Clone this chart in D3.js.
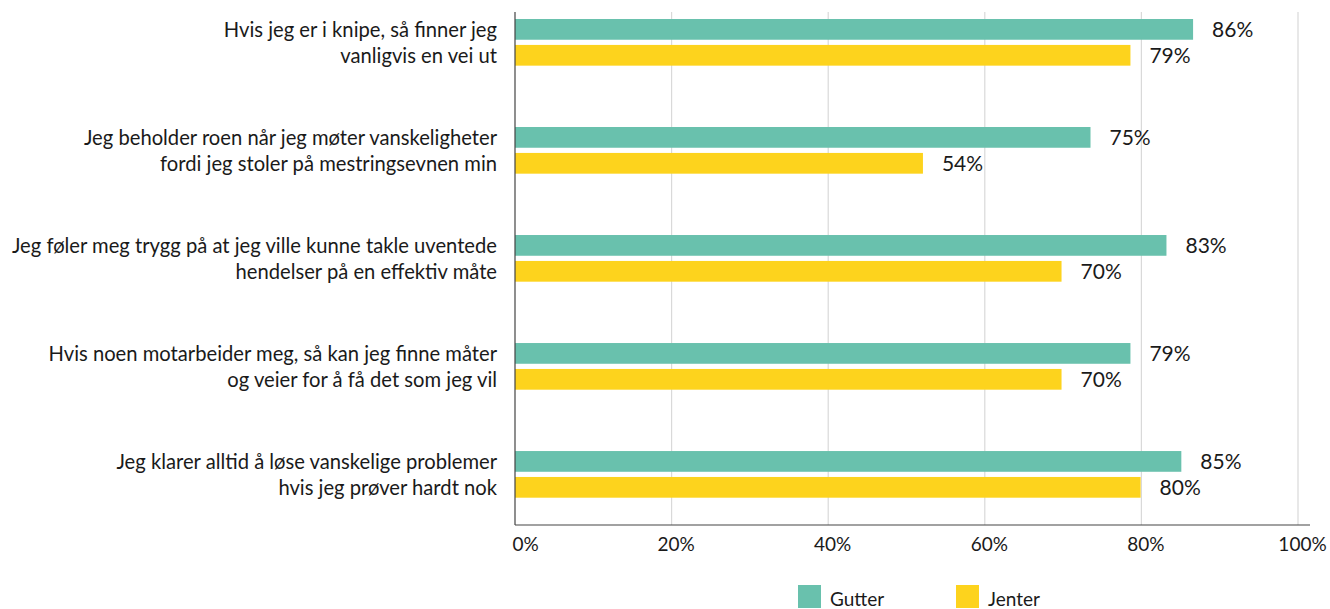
<!DOCTYPE html>
<html>
<head>
<meta charset="utf-8">
<script src="https://cdn.jsdelivr.net/npm/d3@7"></script>
<style>
  html, body { margin: 0; padding: 0; background: #fff; }
  svg { display: block; }
  text { font-family: Lato, "Open Sans", sans-serif; fill: #1a1a1a; }
</style>
</head>
<body>
<svg id="chart" width="1330" height="609"></svg>
<script>
// ---- data ----
const categories = [
  ["Hvis jeg er i knipe, så finner jeg", "vanligvis en vei ut"],
  ["Jeg beholder roen når jeg møter vanskeligheter", "fordi jeg stoler på mestringsevnen min"],
  ["Jeg føler meg trygg på at jeg ville kunne takle uventede", "hendelser på en effektiv måte"],
  ["Hvis noen motarbeider meg, så kan jeg finne måter", "og veier for å få det som jeg vil"],
  ["Jeg klarer alltid å løse vanskelige problemer", "hvis jeg prøver hardt nok"]
];
const seriesNames = ["Gutter", "Jenter"];
const gutterValues = [86.6, 73.5, 83.2, 78.6, 85.1];
const jenterValues = [78.6, 52.1, 69.8, 69.8, 79.9];
const gutterLabels = ["86%", "75%", "83%", "79%", "85%"];
const jenterLabels = ["79%", "54%", "70%", "70%", "80%"];
const xTicks = [0, 20, 40, 60, 80, 100];
const colors = ["#69C1AD", "#FDD31D"];

// ---- layout ----
const svg = d3.select("#chart");
const plotLeft = 515, plotRight = 1298, plotTop = 12, axisY = 525;

const x = d3.scaleLinear().domain([0, 100]).range([plotLeft, plotRight]);
const keys = categories.map((c, i) => i);
const y0 = d3.scaleBand().domain(keys).range([19, 497.7]).paddingInner(0.568).paddingOuter(0);
const y1 = d3.scaleBand().domain(seriesNames).range([0, y0.bandwidth()]).paddingInner(0.2);
const color = d3.scaleOrdinal().domain(seriesNames).range(colors);

const rows = keys.map(i => ({
  i,
  cat: categories[i],
  vals: [
    { s: "Gutter", v: gutterValues[i], l: gutterLabels[i] },
    { s: "Jenter", v: jenterValues[i], l: jenterLabels[i] }
  ]
}));

// gridlines
svg.append("g").selectAll("line")
  .data(xTicks.filter(t => t > 0))
  .join("line")
  .attr("x1", d => x(d)).attr("x2", d => x(d))
  .attr("y1", plotTop).attr("y2", axisY)
  .attr("stroke", "#d9d9d9").attr("stroke-width", 1.2);

// bars
const g = svg.append("g").selectAll("g")
  .data(rows).join("g")
  .attr("transform", d => `translate(0,${y0(d.i)})`);

g.selectAll("rect")
  .data(d => d.vals).join("rect")
  .attr("x", x(0))
  .attr("y", d => y1(d.s))
  .attr("width", d => x(d.v) - x(0))
  .attr("height", y1.bandwidth())
  .attr("fill", d => color(d.s));

g.selectAll("text.val")
  .data(d => d.vals).join("text")
  .attr("class", "val")
  .attr("x", d => x(d.v) + 19)
  .attr("y", d => y1(d.s) + y1.bandwidth() / 2)
  .attr("dy", "0.36em")
  .attr("font-size", 21)
  .text(d => d.l);

// category labels
g.selectAll("text.cat")
  .data(d => d.cat.map((line, k) => ({ line, s: seriesNames[k] })))
  .join("text")
  .attr("class", "cat")
  .attr("x", 497)
  .attr("y", d => y1(d.s) + y1.bandwidth() / 2)
  .attr("dy", "0.36em")
  .attr("text-anchor", "end")
  .attr("font-size", 20.2)
  .text(d => d.line);

// axes lines
svg.append("line")
  .attr("x1", x(0)).attr("x2", x(0))
  .attr("y1", plotTop).attr("y2", axisY)
  .attr("stroke", "#444").attr("stroke-width", 1.2);

const xAxis = d3.axisBottom(x).tickValues(xTicks).tickFormat(d => d + "%").tickSize(0).tickPadding(13);
const ax = svg.append("g").attr("transform", `translate(0,${axisY})`).call(xAxis);
ax.select(".domain").remove();
ax.append("line").attr("x1", x(0)).attr("x2", 1310).attr("y1", 0).attr("y2", 0)
  .attr("stroke", "#444").attr("stroke-width", 1.2);
ax.selectAll(".tick text")
  .attr("font-family", "Lato, sans-serif")
  .attr("font-size", 19)
  .attr("fill", "#1a1a1a")
  .attr("dx", d => d === 0 ? 10 : 4);

// legend
const legendX = [798, 956];
const lg = svg.append("g").selectAll("g")
  .data(seriesNames).join("g")
  .attr("transform", (d, i) => `translate(${legendX[i]},585)`);
lg.append("rect").attr("width", 23).attr("height", 23).attr("fill", d => color(d));
lg.append("text").attr("x", 32).attr("y", 21).attr("font-size", 19).text(d => d);
</script>
</body>
</html>
